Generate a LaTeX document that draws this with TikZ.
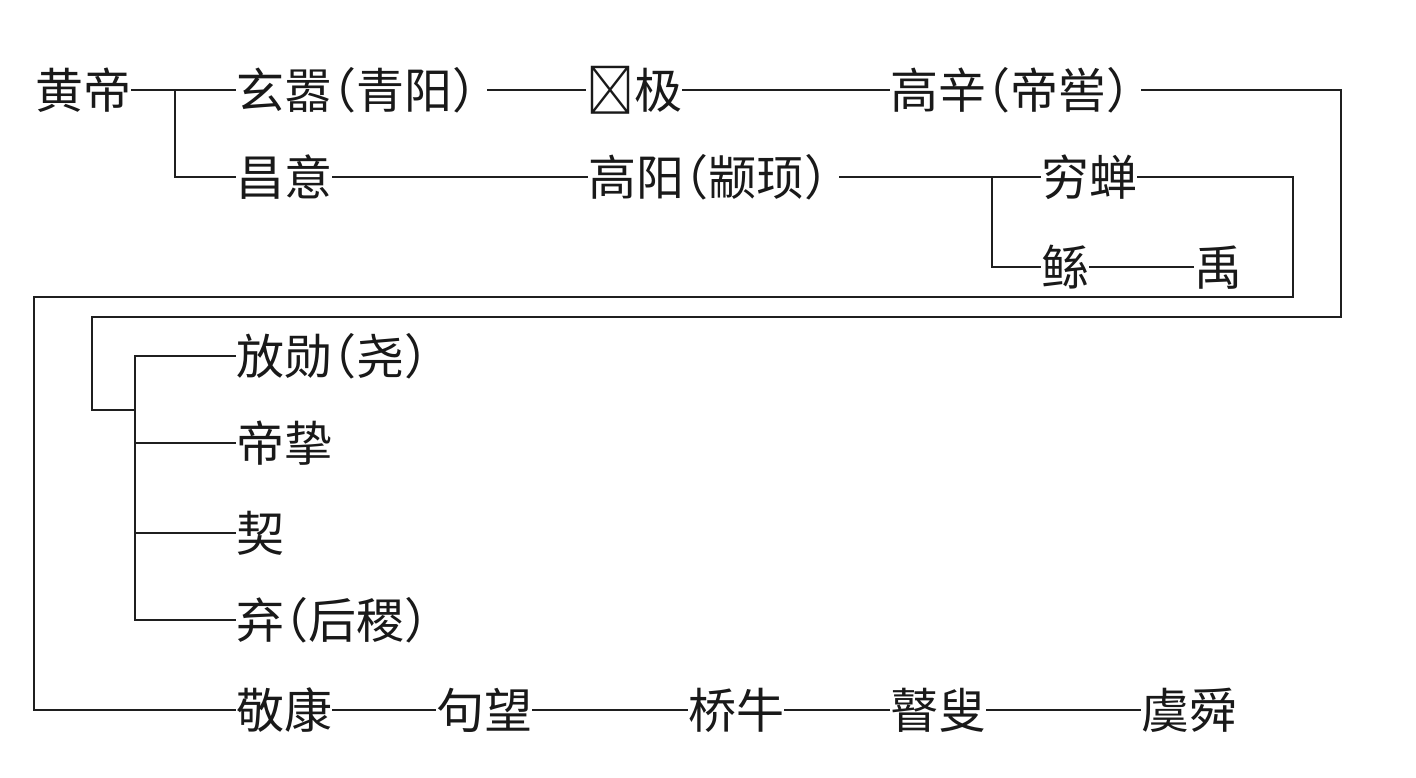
\documentclass[tikz,border=0pt]{standalone}
\usepackage{fontspec}
\newfontfamily\cjk{Noto Sans CJK SC}
\newcommand\cjklp{\hbox to 0.5em{\hss{（}}}
\newcommand\cjkrp{\hbox to 0.5em{{）}\hss}}
\tikzset{
  lbl/.style={inner sep=0pt, outer sep=0pt, anchor=west, font=\cjk\fontsize{48}{48}\selectfont,
              text height=42.24pt, text depth=5.76pt, text=black!90},
  conn/.style={draw=black!88, line width=2.8pt},
  gapl/.style={shorten <=11pt}
}
\begin{document}
\begin{tikzpicture}[x=1pt,y=-1pt]
\useasboundingbox (0,0) rectangle (1416,777);
\fill[white] (0,0) rectangle (1416,777);
% nodes
\node[lbl] (hd)  at (35,90)   {黄帝};
\node[lbl] (xx)  at (236,90)  {玄嚣\cjklp 青阳\cjkrp};
\node[lbl] (jj)  at (586,90)  {𫊸极};
\node[lbl] (gx)  at (890,90)  {高辛\cjklp 帝喾\cjkrp};
\node[lbl] (cy)  at (236,177) {昌意};
\node[lbl] (gy)  at (588,177) {高阳\cjklp 颛顼\cjkrp};
\node[lbl] (qc)  at (1041,177) {穷蝉};
\node[lbl] (gun) at (1041,267) {鲧};
\node[lbl] (yu)  at (1194,267) {禹};
\node[lbl] (fx)  at (236,356) {放勋\cjklp 尧\cjkrp};
\node[lbl] (dz)  at (236,443) {帝挚};
\node[lbl] (qi)  at (236,533) {契};
\node[lbl] (qj)  at (236,620) {弃\cjklp 后稷\cjkrp};
\node[lbl] (jk)  at (236,710) {敬康};
\node[lbl] (jw)  at (436,710) {句望};
\node[lbl] (qn)  at (688,710) {桥牛};
\node[lbl] (gs)  at (890,710) {瞽叟};
\node[lbl] (ys)  at (1141,710) {虞舜};
% junction coordinates
\coordinate (j1) at (175,90);
\coordinate (j2) at (992,177);
\coordinate (c1) at (1341,90);
\coordinate (c2) at (1341,317);
\coordinate (c3) at (92,317);
\coordinate (c4) at (92,410);
\coordinate (b1) at (135,410);
\coordinate (r1) at (1293,177);
\coordinate (r2) at (1293,297);
\coordinate (r3) at (34,297);
% connectors
\draw[conn] (hd.east) -- (xx.west);
\draw[conn] (j1) |- (cy.west);
\draw[conn,gapl] (xx.east) -- (jj.west);
\draw[conn] (jj.east) -- (gx.west);
\draw[conn,gapl] (gx.east) -- (c1) -- (c2) -- (c3) -- (c4) -- (b1);
\draw[conn] (b1) |- (fx.west);
\draw[conn] (b1) |- (dz.west);
\draw[conn] (b1) |- (qi.west);
\draw[conn] (b1) |- (qj.west);
\draw[conn] (cy.east) -- (gy.west);
\draw[conn,gapl] (gy.east) -- (qc.west);
\draw[conn] (j2) |- (gun.west);
\draw[conn] (gun.east) -- (yu.west);
\draw[conn] (qc.east) -- (r1) -- (r2) -- (r3) |- (jk.west);
\draw[conn] (jk.east) -- (jw.west);
\draw[conn] (jw.east) -- (qn.west);
\draw[conn] (qn.east) -- (gs.west);
\draw[conn] (gs.east) -- (ys.west);
\end{tikzpicture}
\end{document}
